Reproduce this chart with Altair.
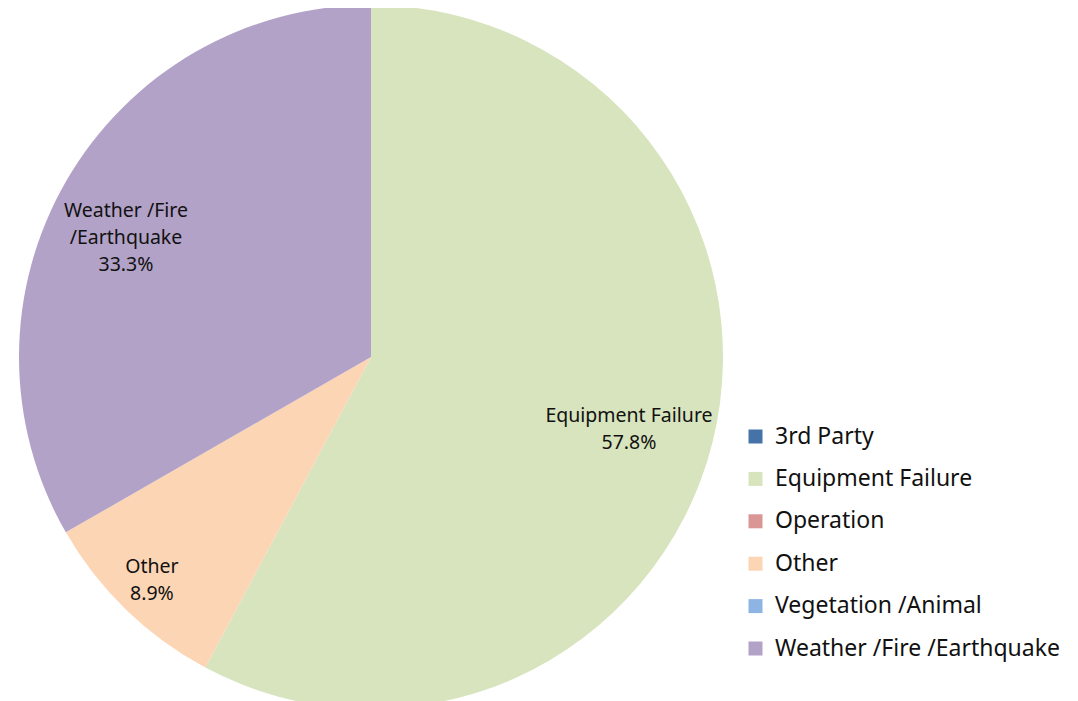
import altair as alt
import pandas as pd

categories = ["3rd Party", "Equipment Failure", "Operation", "Other",
              "Vegetation /Animal", "Weather /Fire /Earthquake"]
shares = [0.0, 57.8, 0.0, 8.9, 0.0, 33.3]
slice_labels = ["3rd Party", "Equipment Failure", "Operation", "Other",
                "Vegetation /Animal", "Weather /Fire\n/Earthquake"]
colors = ["#4572A7", "#D7E4BD", "#D99694", "#FCD5B5", "#8EB4E3", "#B3A2C7"]

df = pd.DataFrame({
    "category": categories,
    "share": shares,
    "label": slice_labels,
    "idx": list(range(len(categories))),
})

FONT = "Noto Sans"
CX, CY, R = 363, 349, 352

base = alt.Chart(df)

pie = base.mark_arc(strokeWidth=0).encode(
    theta=alt.Theta("share:Q", stack=True, scale=alt.Scale(domain=[0, 100])),
    color=alt.Color(
        "category:N",
        scale=alt.Scale(domain=categories, range=colors),
        legend=alt.Legend(
            title=None, orient="none", legendX=736, legendY=417,
            symbolType="square", symbolSize=196, symbolStrokeWidth=0,
            labelFontSize=23, labelFont=FONT, labelColor="#111111",
            labelLimit=500, rowPadding=18.4, labelOffset=8, padding=0,
        ),
    ),
    order=alt.Order("idx:Q"),
    x=alt.value(CX), y=alt.value(CY), radius=alt.value(R),
)


def label_layer(cat, r, dx, dy):
    return (
        base.transform_window(
            cum="sum(share)", sort=[alt.SortField("idx")], frame=[None, 0]
        )
        .transform_calculate(
            mid="datum.cum - datum.share / 2",
            txt="datum.label + '\\n' + format(datum.share / 100, '.1%')",
        )
        .transform_filter(alt.datum.category == cat)
        .mark_text(fontSize=19.5, font=FONT, lineBreak="\n", lineHeight=27,
                   color="#111111", align="center", baseline="middle",
                   dx=dx, dy=dy)
        .encode(
            theta=alt.Theta("mid:Q", stack=False, scale=alt.Scale(domain=[0, 100])),
            radius=alt.value(r),
            x=alt.value(CX), y=alt.value(CY),
            text="txt:N",
        )
    )


chart = alt.layer(
    pie,
    label_layer("Equipment Failure", 268, -2, -6),
    label_layer("Other", 312, -2, -14),
    label_layer("Weather /Fire /Earthquake", 275, -7, -8),
).properties(
    width=1062, height=710, padding=0,
    autosize=alt.AutoSizeParams(type="none"),
    background="white",
).configure_view(stroke=None)

chart.save("out.html", embed_options={"renderer": "svg", "actions": False})
